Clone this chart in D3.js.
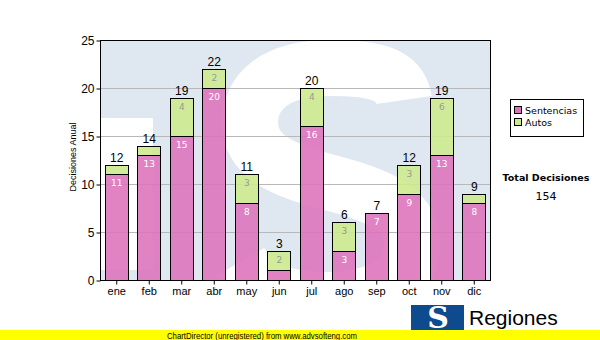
<!DOCTYPE html>
<html><head><meta charset="utf-8">
<script src="https://cdn.jsdelivr.net/npm/d3@7"></script>
<style>body{margin:0;background:#fff}svg{display:block}</style>
</head><body>
<svg id="c" width="600" height="340"></svg>
<script>
const months = ["ene","feb","mar","abr","may","jun","jul","ago","sep","oct","nov","dic"];
const sentencias = [11,13,15,20,8,1,16,3,7,9,13,8];
const autos = [1,1,4,2,3,2,4,3,0,3,6,1];
const yTicks = [0,5,10,15,20,25];
const seriesNames = ["Sentencias","Autos"];
const seriesColors = ["#dd72bb","#cde98c"];
const totalLabel = "Total Decisiones";

const svg = d3.select("#c");
const L=100,R=490,T=40,B=280;
const x = d3.scaleBand().domain(months).range([L,R]).paddingInner(0.3).paddingOuter(0.15);
const y = d3.scaleLinear().domain([0,25]).range([B,T]);

// plot background + watermark (decorative logo shape)
svg.append("clipPath").attr("id","pc").append("rect").attr("x",L).attr("y",T).attr("width",R-L).attr("height",B-T);
const wm = svg.append("g").attr("clip-path","url(#pc)");
wm.append("rect").attr("x",L).attr("y",T).attr("width",R-L).attr("height",B-T).attr("fill","#dfe8f1");
wm.append("rect").attr("x",101).attr("y",118).attr("width",52).attr("height",152).attr("fill","#ffffff");
wm.append("path")
  .attr("d","M 404,100 C 400,72 370,68 330,68 C 275,68 250,92 250,122 C 250,160 290,172 335,184 C 385,197 412,212 412,245 C 412,285 370,300 325,300 C 285,300 255,288 240,262")
  .attr("fill","none").attr("stroke","#ffffff").attr("stroke-width",56);

// grid
svg.append("g").selectAll("line").data(yTicks.filter(v=>v>0&&v<25)).join("line")
  .attr("x1",L).attr("x2",R).attr("y1",d=>y(d)+0.5).attr("y2",d=>y(d)+0.5)
  .attr("stroke","#b8b8b8").attr("stroke-width",1);

// bars
const data = months.map((m,i)=>({m, s:sentencias[i], a:autos[i]}));
const stack = d3.stack().keys(["s","a"])(data);
stack.forEach((layer,k)=>{
  svg.append("g").selectAll("rect").data(layer.filter(d=>d[1]>d[0])).join("rect")
    .attr("x",d=>Math.round(x(d.data.m))+0.5)
    .attr("y",d=>Math.round(y(d[1]))+0.5)
    .attr("width",Math.round(x.bandwidth()))
    .attr("height",d=>Math.round(y(d[0]))-Math.round(y(d[1])))
    .attr("fill",seriesColors[k]).attr("fill-opacity",0.88)
    .attr("stroke","#000").attr("stroke-width",1);
  svg.append("g").selectAll("text").data(layer.filter(d=>d[1]-d[0]>=2)).join("text")
    .attr("x",d=>x(d.data.m)+x.bandwidth()/2+0.5)
    .attr("y",d=>y(d[1])+12)
    .attr("text-anchor","middle").attr("font-family","DejaVu Sans").attr("font-size",9)
    .attr("fill",k===0?"#ffffff":"#999999")
    .text(d=>d[1]-d[0]);
});
// totals
svg.append("g").selectAll("text").data(data).join("text")
  .attr("x",d=>x(d.m)+x.bandwidth()/2+0.5).attr("y",d=>y(d.s+d.a)-3)
  .attr("text-anchor","middle").attr("font-family","Liberation Sans, Arial").attr("font-size",12)
  .attr("fill","#000").text(d=>d.s+d.a);

// frame
svg.append("rect").attr("x",L+0.5).attr("y",T+0.5).attr("width",R-L).attr("height",B-T)
  .attr("fill","none").attr("stroke","#000").attr("stroke-width",1);

// axes
const ya = svg.append("g").attr("transform",`translate(${L+0.5},0.5)`)
  .call(d3.axisLeft(y).tickValues(yTicks).tickSize(4).tickPadding(2));
ya.select(".domain").remove();
ya.selectAll("text").attr("font-family","Liberation Sans, Arial").attr("font-size",12).attr("fill","#000");
const xa = svg.append("g").attr("transform",`translate(0.5,${B+0.5})`)
  .call(d3.axisBottom(x).tickSize(4).tickPadding(3));
xa.select(".domain").remove();
xa.selectAll("text").attr("font-family","Liberation Sans, Arial").attr("font-size",11).attr("fill","#000");

svg.append("text").attr("transform","translate(76,157) rotate(-90)").attr("text-anchor","middle")
  .attr("font-family","Liberation Sans, Arial").attr("font-size",9).text("Decisiones Anual");

// legend
const lg = svg.append("g");
lg.append("rect").attr("x",510.5).attr("y",99.5).attr("width",73).attr("height",37).attr("fill","#fff").attr("stroke","#000");
seriesNames.forEach((n,i)=>{
  lg.append("rect").attr("x",514.5).attr("y",106.5+i*12).attr("width",7).attr("height",7)
    .attr("fill",seriesColors[i]).attr("stroke","#000");
  lg.append("text").attr("x",525).attr("y",114+i*12).attr("font-family","DejaVu Sans").attr("font-size",9.5).text(n);
});
const total = d3.sum(sentencias)+d3.sum(autos);
svg.append("text").attr("x",546).attr("y",181).attr("text-anchor","middle").attr("font-family","DejaVu Sans")
  .attr("font-weight","bold").attr("font-size",9.5).text(totalLabel);
svg.append("text").attr("x",546).attr("y",200).attr("text-anchor","middle").attr("font-family","DejaVu Sans")
  .attr("font-size",11).text(total);

// logo
svg.append("rect").attr("x",411).attr("y",305).attr("width",53).attr("height",28).attr("fill","#0d4a8e");
svg.append("text").attr("x",438).attr("y",328).attr("text-anchor","middle").attr("font-family","DejaVu Serif")
  .attr("font-weight","bold").attr("font-size",30).attr("fill","#fff").text("S");
svg.append("text").attr("x",469).attr("y",325).attr("font-family","Liberation Sans, Arial").attr("font-size",21).text("Regiones");
svg.append("text").attr("x",469).attr("y",339).attr("font-family","Liberation Sans, Arial").attr("font-size",11).text("Tribunal Supremo de Justicia");

// footer band
svg.append("rect").attr("x",0).attr("y",330).attr("width",600).attr("height",10).attr("fill","#ffff00");
svg.append("text").attr("x",262).attr("y",338.5).attr("text-anchor","middle").attr("font-family","Liberation Sans, Arial")
  .attr("font-size",9.5).attr("textLength",190).attr("lengthAdjust","spacingAndGlyphs")
  .text("ChartDirector (unregistered) from www.advsofteng.com");
</script>
</body></html>
